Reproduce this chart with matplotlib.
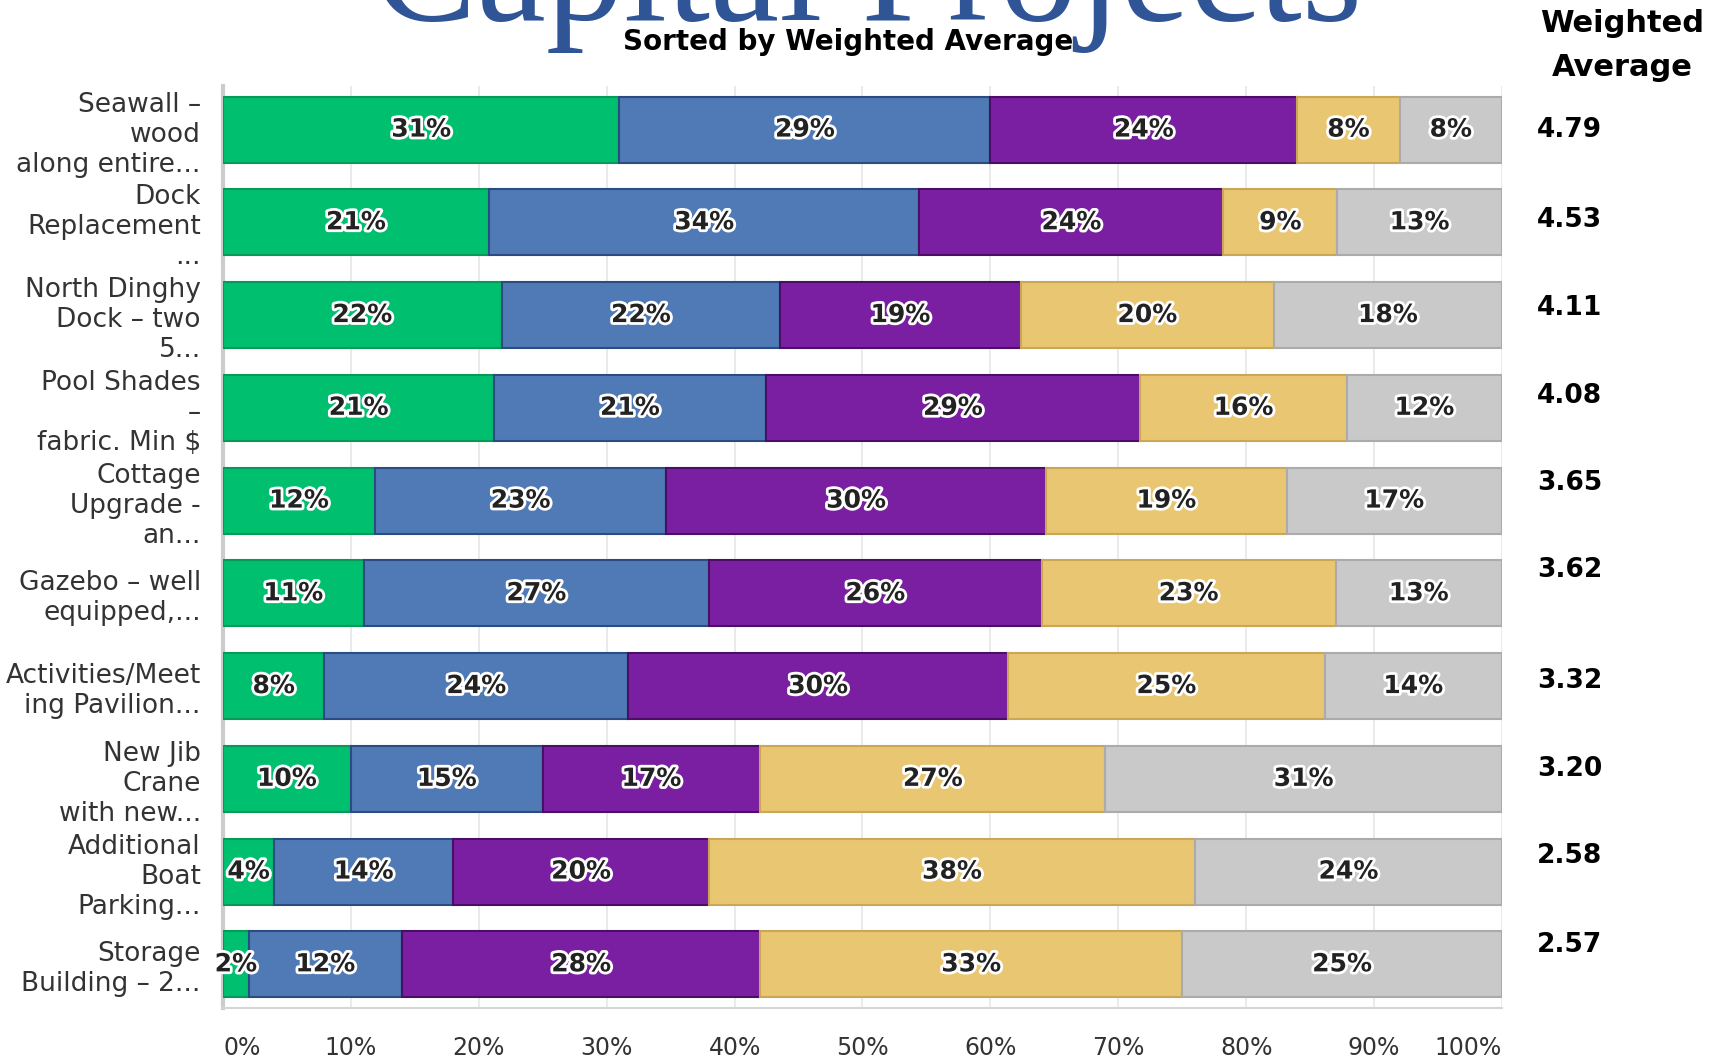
import numpy as np
import matplotlib
matplotlib.use("Agg")
import matplotlib.pyplot as plt
import matplotlib.patheffects as pe
from matplotlib.transforms import blended_transform_factory

# Data
projects = [
    "Seawall \u2013\nwood\nalong entire...",
    "Dock\nReplacement\n...",
    "North Dinghy\nDock \u2013 two\n5...",
    "Pool Shades\n\u2013\nfabric. Min \\$",
    "Cottage\nUpgrade -\nan...",
    "Gazebo \u2013 well\nequipped,...",
    "Activities/Meet\ning Pavilion...",
    "New Jib\nCrane\nwith new...",
    "Additional\nBoat\nParking...",
    "Storage\nBuilding \u2013 2...",
]
rank1 = [31, 21, 22, 21, 12, 11, 8, 10, 4, 2]
rank2 = [29, 34, 22, 21, 23, 27, 24, 15, 14, 12]
rank3 = [24, 24, 19, 29, 30, 26, 30, 17, 20, 28]
rank4 = [8, 9, 20, 16, 19, 23, 25, 27, 38, 33]
rank5 = [8, 13, 18, 12, 17, 13, 14, 31, 24, 25]
weighted_avg = ["4.79", "4.53", "4.11", "4.08", "3.65", "3.62", "3.32", "3.20", "2.58", "2.57"]
x_ticks = [0, 10, 20, 30, 40, 50, 60, 70, 80, 90, 100]

colors = ["#00BF6F", "#4F7AB5", "#7B1FA2", "#E9C772", "#C9C9C9"]
edges = ["#079957", "#2B4C82", "#4A0E66", "#C9A757", "#ABABAB"]

series = np.array([rank1, rank2, rank3, rank4, rank5], dtype=float)
# bars fill 100% even when rounded labels add to 99/101
shares = series / series.sum(axis=0) * 100

fig = plt.figure(figsize=(17.21, 10.59), dpi=100)
ax = fig.add_axes([0.1296, 0.0482, 0.7431, 0.8706])

y = np.arange(len(projects))
left = np.zeros(len(projects))
for k in range(5):
    ax.barh(y, shares[k], left=left, height=0.71, color=colors[k],
            edgecolor=edges[k], linewidth=1.5, zorder=3)
    for i in range(len(projects)):
        ax.text(left[i] + shares[k][i] / 2, y[i], f"{int(series[k][i])}%",
                ha="center", va="center", fontsize=18, fontweight="bold",
                color="#222222", zorder=4,
                path_effects=[pe.withStroke(linewidth=4, foreground="white")])
    left += shares[k]

ax.set_xlim(0, 100)
ax.set_ylim(len(projects) - 0.53, -0.47)
ax.set_yticks(y)
ax.set_yticklabels(projects, fontsize=19, color="#333333", linespacing=1.2)
ax.tick_params(axis="y", length=0, pad=16)
ax.set_xticks(x_ticks)
ax.set_xticklabels([f"{t}%" for t in x_ticks], fontsize=17, color="#333333")
ax.tick_params(axis="x", length=0, pad=20)
xl = ax.get_xticklabels()
xl[0].set_ha("left")
xl[-1].set_ha("right")

ax.grid(axis="x", color="#E6E6E6", linewidth=1.2, zorder=0)
for s in ["top", "right"]:
    ax.spines[s].set_visible(False)
ax.spines["left"].set_color("#CCCCCC")
ax.spines["left"].set_linewidth(3)
ax.spines["bottom"].set_color("#D5D5D5")
ax.spines["bottom"].set_linewidth(1.5)

# weighted averages column
shift = [0.0, 0.02, 0.08, 0.13, 0.19, 0.25, 0.06, 0.11, 0.17, 0.21]
tr = blended_transform_factory(fig.transFigure, ax.transData)
for i, v in enumerate(weighted_avg):
    ax.text(1537 / 1721, y[i] - shift[i], v, transform=tr, ha="left", va="center",
            fontsize=19, fontweight="bold", color="black")

fig.text(1622 / 1721, 1 - 24 / 1059, "Weighted", ha="center", va="center",
         fontsize=22, fontweight="bold")
fig.text(1622 / 1721, 1 - 67 / 1059, "Average", ha="center", va="center",
         fontsize=22, fontweight="bold")

# title is cut off at the top edge
fig.text(868 / 1721, 1 - 20 / 1059, "Capital Projects", ha="center", va="baseline",
         fontsize=112, family="Liberation Serif", color="#2F5597")
fig.text(848 / 1721, 1 - 42 / 1059, "Sorted by Weighted Average", ha="center",
         va="center", fontsize=20, fontweight="bold", color="black")

fig.savefig("out.png", dpi=100, facecolor="white")
